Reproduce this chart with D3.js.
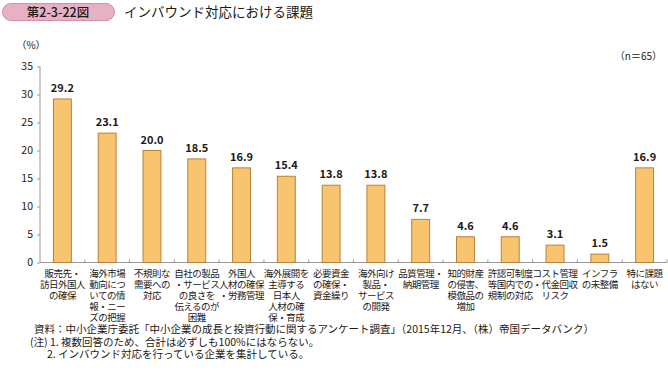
<!DOCTYPE html>
<meta charset="utf-8">
<style>
  body { margin: 0; background: #fff; }
  text { font-family: "Noto Sans CJK JP", "Noto Sans", sans-serif; fill: #231815; }
</style>
<body>
  <script src="https://d3js.org/d3.v7.min.js"></script>
  <script>
    var categories = [
      ["販売先・", "訪日外国人", "の確保"],
      ["海外市場", "動向につ", "いての情", "報・ニー", "ズの把握"],
      ["不規則な", "需要への", "対応"],
      ["自社の製品", "・サービス", "の良さを", "伝えるのが", "困難"],
      ["外国人", "人材の確保", "・労務管理"],
      ["海外展開を", "主導する", "日本人", "人材の確", "保・育成"],
      ["必要資金", "の確保・", "資金繰り"],
      ["海外向け", "製品・", "サービス", "の開発"],
      ["品質管理・", "納期管理"],
      ["知的財産", "の侵害、", "模倣品の", "増加"],
      ["許認可制度", "等国内での", "規制の対応"],
      ["コスト管理", "・代金回収", "リスク"],
      ["インフラ", "の未整備"],
      ["特に課題", "はない"]
    ];
    var values = [29.2, 23.1, 20.0, 18.5, 16.9, 15.4, 13.8, 13.8, 7.7, 4.6, 4.6, 3.1, 1.5, 16.9];
    var yTicks = [0, 5, 10, 15, 20, 25, 30, 35];
    var notes = [
      "資料：中小企業庁委託「中小企業の成長と投資行動に関するアンケート調査」（2015年12月、（株）帝国データバンク）",
      "(注) 1. 複数回答のため、合計は必ずしも100%にはならない。",
      "2. インバウンド対応を行っている企業を集計している。"
    ];

    var width = 668, height = 370;
    var left = 40, right = 667, y0 = 262.5, yTop = 66.5;

    var svg = d3.select("body").append("svg")
      .attr("width", width)
      .attr("height", height);

    // title
    svg.append("rect")
      .attr("x", 2.5).attr("y", 3.5)
      .attr("width", 112).attr("height", 17)
      .attr("rx", 8.5)
      .style("fill", "#e7b1c5")
      .style("stroke", "#d58ea9");
    svg.append("text")
      .attr("x", 58).attr("y", 16.5)
      .attr("text-anchor", "middle")
      .style("font-size", "12.5px")
      .style("font-weight", 500)
      .text("第2-3-22図");
    svg.append("text")
      .attr("x", 124).attr("y", 17)
      .style("font-size", "13.5px")
      .text("インバウンド対応における課題");

    var x = d3.scaleBand()
      .domain(d3.range(categories.length))
      .range([left, right])
      .paddingInner(0.6)
      .paddingOuter(0.3);

    var y = d3.scaleLinear()
      .domain([0, 35])
      .range([y0, yTop]);

    var yAxis = d3.axisLeft(y)
      .tickValues(yTicks)
      .tickSize(3)
      .tickPadding(4);

    var gy = svg.append("g")
      .attr("transform", "translate(" + left + ",0)")
      .call(yAxis);
    gy.select(".domain").attr("d", "M0," + yTop + "V" + y0).style("stroke", "#9a9a9a");
    gy.selectAll(".tick line").style("stroke", "#9a9a9a");
    gy.selectAll(".tick text")
      .style("font-family", "\"Noto Sans CJK JP\", sans-serif")
      .style("font-size", "10.5px")
      .style("fill", "#231815");

    // x axis line and boundary ticks
    svg.append("line")
      .attr("x1", left).attr("x2", right)
      .attr("y1", y0).attr("y2", y0)
      .style("stroke", "#9a9a9a");
    svg.selectAll(".xtick")
      .data(d3.range(1, categories.length + 1))
      .enter().append("line")
      .attr("class", "xtick")
      .attr("x1", function (d) { return left + d * x.step(); })
      .attr("x2", function (d) { return left + d * x.step(); })
      .attr("y1", y0).attr("y2", y0 - 3)
      .style("stroke", "#9a9a9a");

    svg.append("text")
      .attr("x", 31).attr("y", 49)
      .attr("text-anchor", "middle")
      .style("font-size", "10px")
      .text("（%）");
    svg.append("text")
      .attr("x", 662).attr("y", 60)
      .attr("text-anchor", "end")
      .style("font-size", "10px")
      .text("（n＝65）");

    // bars
    svg.selectAll(".bar")
      .data(values)
      .enter().append("rect")
      .attr("class", "bar")
      .attr("x", function (d, i) { return x(i); })
      .attr("y", function (d) { return y(d); })
      .attr("width", x.bandwidth())
      .attr("height", function (d) { return y0 - y(d); })
      .style("fill", "#f9c46f")
      .style("stroke", "#b8823a")
      .style("stroke-width", 1);

    svg.selectAll(".val")
      .data(values)
      .enter().append("text")
      .attr("class", "val")
      .attr("x", function (d, i) { return x(i) + x.bandwidth() / 2; })
      .attr("y", function (d) { return y(d) - 7; })
      .attr("text-anchor", "middle")
      .style("font-size", "11px")
      .style("font-weight", 600)
      .text(function (d) { return d.toFixed(1); });

    // category labels
    var labels = svg.selectAll(".cat")
      .data(categories)
      .enter().append("text")
      .attr("class", "cat")
      .attr("text-anchor", "middle")
      .style("font-size", "9.5px")
      .style("letter-spacing", "-0.5px");
    labels.selectAll("tspan")
      .data(function (d, i) { return d.map(function (s) { return { s: s, i: i }; }); })
      .enter().append("tspan")
      .attr("x", function (d) { return x(d.i) + x.bandwidth() / 2; })
      .attr("y", function (d, j) { return 276.5 + j * 11; })
      .text(function (d) { return d.s; });

    svg.selectAll(".note")
      .data(notes)
      .enter().append("text")
      .attr("class", "note")
      .attr("x", function (d, i) { return [34, 30, 47][i]; })
      .attr("y", function (d, i) { return 333 + i * 12.5; })
      .style("font-size", "10.5px")
      .text(function (d) { return d; });
  </script>
</body>
